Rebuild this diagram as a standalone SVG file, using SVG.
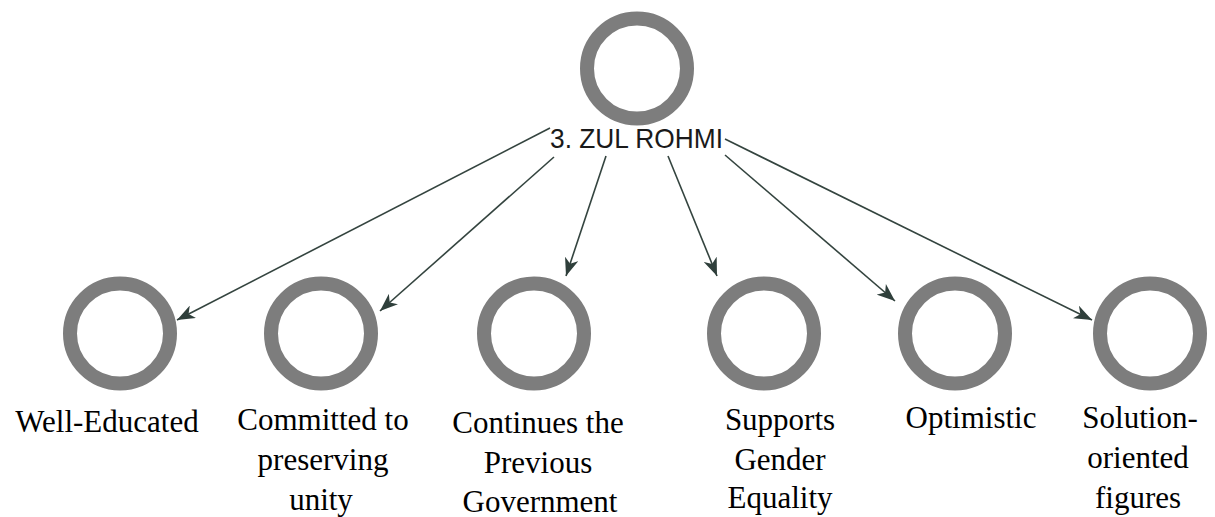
<svg xmlns="http://www.w3.org/2000/svg" width="1215" height="517" viewBox="0 0 1215 517">
<style>
.node{fill:none;stroke:#7d7d7d;stroke-width:14}
.edge{stroke:#34443f;stroke-width:1.6;fill:none}
.hub{font-family:"Liberation Sans",Arial,sans-serif;font-size:28px;fill:#1a1a1a}
.lbl{font-family:"Liberation Serif","Times New Roman",serif;font-size:31px;fill:#000;text-anchor:middle}
</style>
<defs>
<marker id="arr" viewBox="0 0 18 14" refX="18" refY="7" markerWidth="18" markerHeight="14" markerUnits="userSpaceOnUse" orient="auto">
<path d="M0,0 L18,7 L0,14 L5,7 Z" fill="#2f3f3b"/>
</marker>
</defs>
<rect width="1215" height="517" fill="#fff"/>
<g id="connectors">
<line class="edge" x1="550" y1="128" x2="177" y2="320" marker-end="url(#arr)"/>
<line class="edge" x1="554" y1="157" x2="380" y2="311" marker-end="url(#arr)"/>
<line class="edge" x1="606" y1="156" x2="566" y2="276" marker-end="url(#arr)"/>
<line class="edge" x1="668" y1="156" x2="717" y2="276" marker-end="url(#arr)"/>
<line class="edge" x1="725" y1="155" x2="895" y2="301" marker-end="url(#arr)"/>
<line class="edge" x1="725" y1="139" x2="1092" y2="320" marker-end="url(#arr)"/>
</g>
<g id="n0">
<circle class="node" cx="637" cy="68.5" r="50"/>
<text class="hub" x="550" y="148" textLength="173" lengthAdjust="spacingAndGlyphs">3. ZUL ROHMI</text>
</g>
<g id="n1">
<circle class="node" cx="120" cy="333.5" r="50"/>
<text class="lbl" x="107" y="432">Well-Educated</text>
</g>
<g id="n2">
<circle class="node" cx="321" cy="333.5" r="50"/>
<text class="lbl" x="323" y="430">Committed to</text>
<text class="lbl" x="323" y="470">preserving</text>
<text class="lbl" x="321" y="510">unity</text>
</g>
<g id="n3">
<circle class="node" cx="534" cy="333.5" r="50"/>
<text class="lbl" x="538" y="433">Continues the</text>
<text class="lbl" x="538" y="473">Previous</text>
<text class="lbl" x="540" y="512">Government</text>
</g>
<g id="n4">
<circle class="node" cx="764" cy="333.5" r="50"/>
<text class="lbl" x="780" y="430">Supports</text>
<text class="lbl" x="780" y="470">Gender</text>
<text class="lbl" x="780" y="508">Equality</text>
</g>
<g id="n5">
<circle class="node" cx="955" cy="333.5" r="50"/>
<text class="lbl" x="971" y="428">Optimistic</text>
</g>
<g id="n6">
<circle class="node" cx="1150" cy="333.5" r="50"/>
<text class="lbl" x="1140" y="428">Solution-</text>
<text class="lbl" x="1138" y="468">oriented</text>
<text class="lbl" x="1138" y="508">figures</text>
</g>
</svg>
